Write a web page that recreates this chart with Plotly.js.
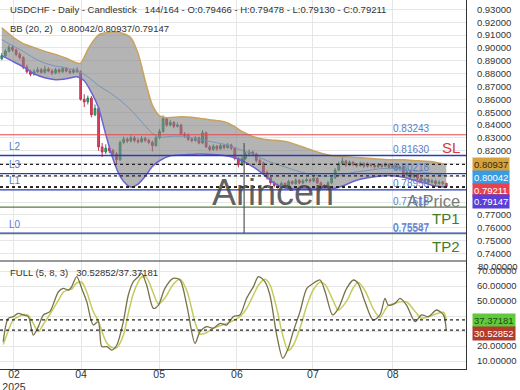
<!DOCTYPE html>
<html><head><meta charset="utf-8">
<script src="https://cdn.plot.ly/plotly-3.0.1.min.js"></script>
<style>html,body{margin:0;padding:0;background:#fff}#chart{width:520px;height:390px}</style>
</head><body><div id="chart"></div>
<script>
// ---- price data (daily candles) ----
const openP = [0.8915,0.8940,0.8975,0.9005,0.8985,0.8950,0.8925,0.8850,0.8815,0.8795,
0.8815,0.8830,0.8810,0.8835,0.8820,0.8805,0.8830,0.8815,0.8840,0.8820,
0.8810,0.8830,0.8815,0.8600,0.8580,0.8610,0.8480,0.8530,0.8230,0.8190,
0.8220,0.8200,0.8175,0.8130,0.8265,0.8290,0.8275,0.8300,0.8280,0.8270,
0.8295,0.8280,0.8265,0.8240,0.8300,0.8350,0.8450,0.8400,0.8420,0.8390,
0.8400,0.8330,0.8320,0.8290,0.8280,0.8300,0.8260,0.8340,0.8230,0.8210,
0.8235,0.8215,0.8240,0.8225,0.8245,0.8220,0.8140,0.8090,0.8140,0.8175,
0.8190,0.8175,0.8125,0.8105,0.8030,0.7990,0.7950,0.7930,0.7920,0.7945,
0.7925,0.7960,0.7945,0.7970,0.7950,0.7965,0.7975,0.7965,0.7985,0.7950,
0.7930,0.7925,0.7950,0.7990,0.8050,0.8100,0.8120,0.8090,0.8110,0.8095,
0.8085,0.8100,0.8080,0.8095,0.8085,0.8075,0.8090,0.8080,0.8095,0.8070,
0.8085,0.8060,0.8075,0.8010,0.8035,0.7995,0.8015,0.7985,0.7960,0.7975,
0.7955,0.7965,0.7945,0.7955,0.79466];
const highP = [0.8960,0.8990,0.9025,0.9020,0.8995,0.8965,0.8935,0.8870,0.8830,0.8835,
0.8850,0.8845,0.8860,0.8850,0.8835,0.8845,0.8840,0.8855,0.8850,0.8835,
0.8845,0.8850,0.8825,0.8640,0.8630,0.8625,0.8560,0.8545,0.8260,0.8250,
0.8240,0.8215,0.8190,0.8280,0.8310,0.8305,0.8320,0.8315,0.8300,0.8315,
0.8310,0.8295,0.8280,0.8315,0.8370,0.8475,0.8460,0.8440,0.8430,0.8420,
0.8410,0.8345,0.8335,0.8305,0.8315,0.8310,0.8360,0.8350,0.8245,0.8250,
0.8245,0.8255,0.8250,0.8260,0.8255,0.8230,0.8150,0.8160,0.8190,0.8210,
0.8200,0.8185,0.8140,0.8115,0.8045,0.8000,0.7965,0.7945,0.7960,0.7955,
0.7975,0.7970,0.7985,0.7980,0.7980,0.7990,0.7985,0.8000,0.7995,0.7960,
0.7940,0.7965,0.8005,0.8065,0.8115,0.8160,0.8130,0.8125,0.8120,0.8105,
0.8115,0.8110,0.8110,0.8105,0.8100,0.8105,0.8100,0.8110,0.8105,0.8100,
0.8095,0.8090,0.8085,0.8050,0.8045,0.8030,0.8025,0.7995,0.7990,0.7985,
0.7980,0.7975,0.7970,0.7965,0.79478];
const lowP = [0.8905,0.8930,0.8965,0.8970,0.8935,0.8910,0.8835,0.8800,0.8780,0.8785,
0.8805,0.8800,0.8800,0.8810,0.8790,0.8795,0.8800,0.8805,0.8810,0.8795,
0.8800,0.8805,0.8590,0.8540,0.8560,0.8460,0.8470,0.8200,0.8150,0.8175,
0.8180,0.8150,0.8090,0.8120,0.8250,0.8260,0.8265,0.8265,0.8255,0.8260,
0.8265,0.8250,0.8195,0.8230,0.8290,0.8340,0.8385,0.8390,0.8375,0.8380,
0.8320,0.8300,0.8275,0.8265,0.8270,0.8250,0.8250,0.8220,0.8195,0.8200,
0.8200,0.8205,0.8210,0.8215,0.8205,0.8125,0.8070,0.8080,0.8130,0.8165,
0.8160,0.8110,0.8090,0.8015,0.7975,0.7935,0.7915,0.7905,0.7910,0.7910,
0.7915,0.7935,0.7935,0.7940,0.7940,0.7955,0.7950,0.7955,0.7940,0.7915,
0.7905,0.7915,0.7940,0.7980,0.8040,0.8090,0.8075,0.8080,0.8080,0.8070,
0.8075,0.8065,0.8070,0.8070,0.8060,0.8065,0.8065,0.8070,0.8060,0.8060,
0.8050,0.8050,0.7995,0.8000,0.7985,0.7985,0.7970,0.7945,0.7950,0.7940,
0.7945,0.7930,0.7935,0.7930,0.79130];
const closeP = [0.8940,0.8975,0.9005,0.8985,0.8950,0.8925,0.8850,0.8815,0.8795,0.8815,
0.8830,0.8810,0.8835,0.8820,0.8805,0.8830,0.8815,0.8840,0.8820,0.8810,
0.8830,0.8815,0.8600,0.8580,0.8610,0.8480,0.8530,0.8230,0.8190,0.8220,
0.8200,0.8175,0.8130,0.8265,0.8290,0.8275,0.8300,0.8280,0.8270,0.8295,
0.8280,0.8265,0.8240,0.8300,0.8350,0.8450,0.8400,0.8420,0.8390,0.8400,
0.8330,0.8320,0.8290,0.8280,0.8300,0.8260,0.8340,0.8230,0.8210,0.8235,
0.8215,0.8240,0.8225,0.8245,0.8220,0.8140,0.8090,0.8140,0.8175,0.8190,
0.8175,0.8125,0.8105,0.8030,0.7990,0.7950,0.7930,0.7920,0.7945,0.7925,
0.7960,0.7945,0.7970,0.7950,0.7965,0.7975,0.7965,0.7985,0.7950,0.7930,
0.7925,0.7950,0.7990,0.8050,0.8100,0.8120,0.8090,0.8110,0.8095,0.8085,
0.8100,0.8080,0.8095,0.8085,0.8075,0.8090,0.8080,0.8095,0.8070,0.8085,
0.8060,0.8075,0.8010,0.8035,0.7995,0.8015,0.7985,0.7960,0.7975,0.7955,
0.7965,0.7945,0.7955,0.7947,0.79211];
const candleIdx = closeP.map((_, i) => i);

// ---- Bollinger bands (20, 2) ----
const bbIdxU = [0,3,6,9,12,15,18,21,22,23,24,25,26,27,29,32,34,36,38,40,42,44,46,50,54,58,62,65,67,70,73,76,80,84,88,92,96,100,104,108,112,116,120,124];
const bbUpper = [0.9156,0.9087,0.9034,0.9004,0.8973,0.8950,0.8920,0.8882,0.8882,0.8928,0.8988,0.9034,0.9072,0.9102,0.9118,0.9125,0.9110,0.9080,0.8958,0.8745,0.8555,0.8472,0.8457,0.8464,0.8457,0.8441,0.8426,0.8388,0.8350,0.8312,0.8289,0.8282,0.8267,0.8229,0.8191,0.8161,0.8153,0.8145,0.8137,0.8130,0.8130,0.8122,0.8115,0.80937];
const bbIdxM = [0,3,6,9,12,15,18,21,24,27,30,33,36,39,42,44,47,51,55,59,63,66,70,74,78,82,86,90,94,98,102,106,110,114,118,122,124];
const bbMid = [0.9064,0.9019,0.8973,0.8920,0.8882,0.8859,0.8844,0.8821,0.8776,0.8707,0.8654,0.8593,0.8517,0.8426,0.8335,0.8305,0.8312,0.8312,0.8289,0.8267,0.8244,0.8213,0.8175,0.8122,0.8084,0.8046,0.8016,0.8001,0.8008,0.8031,0.8046,0.8061,0.8061,0.8046,0.8031,0.8016,0.80042];
const bbIdxL = [0,3,6,9,12,15,18,21,23,25,27,29,31,33,35,36,38,40,42,44,47,51,55,60,64,67,70,73,76,79,83,88,92,95,99,103,108,112,116,120,124];
const bbLower = [0.8940,0.8897,0.8852,0.8799,0.8768,0.8753,0.8760,0.8776,0.8745,0.8654,0.8533,0.8327,0.8137,0.8001,0.7932,0.7917,0.7940,0.8001,0.8077,0.8122,0.8160,0.8168,0.8175,0.8168,0.8153,0.8122,0.8077,0.8016,0.7947,0.7909,0.7902,0.7902,0.7902,0.7925,0.7970,0.7993,0.8008,0.7993,0.7963,0.7932,0.79147];

// ---- Full stochastic (5, 8, 3) ----
const stochIdx = [0.4,1.8,3.2,4.6,6.0,7.4,8.8,10.2,11.6,13.4,15.8,17.2,18.6,19.5,20.9,22.3,23.7,25.5,26.9,27.9,29.3,30.7,32.1,33.9,35.3,36.7,38.1,39.0,40.4,42.3,43.7,45.5,47.8,49.7,51.6,53.9,55.3,57.2,59.0,60.9,62.7,64.6,66.4,68.3,70.2,71.6,73.4,74.8,76.7,78.4,79.9,81.3,83.2,85.1,86.9,88.8,90.2,92.3,93.9,96.2,98.1,99.4,101.3,103.6,105.5,106.9,107.8,109.7,111.1,112.9,115.3,117.1,119.0,121.3,123.2,124];
const stochK = [22.9,38.4,39.6,41.8,40.7,39.6,27.3,32.9,40.7,42.9,56.2,58.4,57.3,59.6,66.2,58.4,49.6,34.0,36.2,19.6,19.6,17.3,20.7,36.2,54.0,62.9,66.2,68.4,60.7,45.1,47.3,58.4,65.1,64.0,47.3,21.8,29.6,32.9,31.8,35.1,34.0,39.6,40.7,51.8,59.6,66.2,62.9,54.0,27.3,11.8,18.4,29.6,42.9,58.4,61.8,64.0,56.2,40.7,45.1,58.4,64.0,61.8,49.6,37.3,40.7,51.8,47.3,48.4,51.8,47.3,36.2,40.7,39.6,44.0,40.7,30.52852];
const stochD = [21.0,30.0,37.5,39.5,41.0,40.5,35.0,29.5,34.5,41.0,50.5,56.0,57.5,58.0,62.0,62.5,56.0,43.0,37.0,30.0,22.0,19.0,19.0,27.0,42.0,55.0,63.0,66.0,65.5,55.0,48.0,52.0,61.0,64.5,57.0,36.0,28.0,29.0,32.0,33.5,35.0,37.0,39.5,45.0,54.0,60.5,64.5,61.0,45.0,27.0,17.0,20.5,32.0,47.0,57.5,62.5,61.0,51.0,44.0,50.0,59.0,62.5,57.0,45.0,39.0,44.0,47.0,48.5,49.5,49.5,43.0,38.5,39.5,41.5,42.5,37.37181];

// ---- axis ticks ----
const monthTickIdx = [3.4, 22.1, 43.9, 65.6, 86.8, 109.1];
const monthLabels = ['02<br>2025', '04', '05', '06', '07', '08'];
const priceTicks = [0.74,0.75,0.76,0.77,0.78,0.79,0.80,0.81,0.82,0.83,0.84,0.85,0.86,0.87,0.88,0.89,0.90,0.91,0.92,0.93];
const priceTickText = ['0.74000','0.75000','0.76000','0.77000','','','','','0.82000','0.83000','0.84000','0.85000','0.86000','0.87000','0.88000','0.89000','0.90000','0.91000','0.92000','0.93000'];
const stochTicks = [10, 20, 30, 40, 50, 60, 70];
const stochTickText = ['10.00000','20.00000','','','50.00000','60.00000','70.00000'];

// ---- trade levels ----
const levelNames = ['L2', 'L3', 'L1', 'L0'];
const levelValues = [0.81630, 0.80218, 0.78958, 0.75587];
const slValue = 0.83243;
const tp1Value = 0.77618;
const tp2Value = 0.75547;
const bbNow = [0.80937, 0.80042, 0.79147];
const lastClose = 0.79211;
const stochNow = [37.37181, 30.52852];
const cursorIdx = 67.6;

const FONT = '"Liberation Sans", Arial, sans-serif';
const PH = 369, PW = 466;           // plot area size in px
const py = px => 1 - px / PH;        // pixel row -> paper y
const SPLIT = 261;

const traces = [
  {type:'scatter', x:bbIdxU, y:bbUpper, mode:'lines', line:{color:'#c9a25c', width:1.5, shape:'spline', smoothing:0.7}, hoverinfo:'skip'},
  {type:'scatter', x:bbIdxL, y:bbLower, mode:'lines', line:{color:'#6b62d8', width:1.5, shape:'spline', smoothing:0.7}, fill:'tonexty', fillcolor:'rgba(130,130,130,0.6)', hoverinfo:'skip'},
  {type:'scatter', x:bbIdxM, y:bbMid, mode:'lines', line:{color:'#7396bb', width:1, shape:'spline', smoothing:0.7}, hoverinfo:'skip'},
  {type:'candlestick', x:candleIdx, open:openP, high:highP, low:lowP, close:closeP,
   increasing:{line:{color:'#24895a', width:1}, fillcolor:'#2fa36b'},
   decreasing:{line:{color:'#c23452', width:1}, fillcolor:'#d8435f'},
   whiskerwidth:0, hoverinfo:'skip'},
  {type:'scatter', x:stochIdx, y:stochD, yaxis:'y2', mode:'lines', line:{color:'#c3cc5c', width:1.5, shape:'spline', smoothing:0.8}, hoverinfo:'skip'},
  {type:'scatter', x:stochIdx, y:stochK, yaxis:'y2', mode:'lines', line:{color:'#77704a', width:1.3, shape:'spline', smoothing:0.8}, hoverinfo:'skip'}
];

const shapes = [];
const hline = (v, color, width, dash, yref) => shapes.push({type:'line', xref:'paper', x0:0, x1:1, yref:yref||'y', y0:v, y1:v, line:{color, width, dash:dash||'solid'}});
hline(slValue, '#e04a4e', 1.2);
levelValues.forEach(v => hline(v, '#2b3db3', 1.3));
hline(tp1Value, '#557f45', 1.2);
hline(tp2Value, '#557f45', 1.2);
bbNow.forEach(v => hline(v, '#222', 1.2, '3px,3px'));
hline(lastClose, '#222', 1, '3px,3px');
stochNow.forEach(v => hline(v, '#222', 1.2, '3px,3px', 'y2'));
shapes.push({type:'line', xref:'paper', x0:0, x1:1, yref:'paper', y0:py(SPLIT), y1:py(SPLIT), line:{color:'#333', width:1}});
shapes.push({type:'line', xref:'x', x0:cursorIdx, x1:cursorIdx, yref:'y', y0:levelValues[3], y1:0.826, line:{color:'#555', width:1.2}});

const ann = [];
const txt = (o) => ann.push(Object.assign({showarrow:false, font:{family:FONT, size:9.5, color:'#333'}}, o));
txt({xref:'paper', yref:'paper', x:8/PW, y:py(9), xanchor:'left', yanchor:'middle',
     text:'USDCHF - Daily - Candlestick\u00a0\u00a0\u00a0144/164 - O:0.79466 - H:0.79478 - L:0.79130 - C:0.79211'});
txt({xref:'paper', yref:'paper', x:8/PW, y:py(29), xanchor:'left', yanchor:'middle',
     text:'BB (20, 2)\u00a0\u00a0\u00a0' + bbNow[1].toFixed(5) + '/' + bbNow[0].toFixed(5) + '/' + bbNow[2].toFixed(5)});
txt({xref:'paper', yref:'paper', x:8/PW, y:py(272), xanchor:'left', yanchor:'middle',
     text:'FULL (5, 8, 3)\u00a0\u00a0\u00a0' + stochNow[1].toFixed(5) + '/' + stochNow[0].toFixed(5)});
// watermark and AtPrice
txt({xref:'paper', yref:'paper', x:273/PW, y:py(193), xanchor:'center', yanchor:'middle', text:'Arincen',
     font:{family:FONT, size:36, color:'rgba(70,70,70,0.85)'}});
txt({xref:'paper', yref:'paper', x:462/PW, y:py(201), xanchor:'right', yanchor:'middle', text:'AtPrice',
     font:{family:FONT, size:16.5, color:'#7a7a7a'}});
// level value labels (blue)
[slValue, ...levelValues, tp1Value].forEach(v => txt({xref:'paper', yref:'y', x:391/PW, y:v, yshift:6, xanchor:'left', yanchor:'middle',
     text:v.toFixed(5), font:{family:FONT, size:10, color:'#5b7dc8'}}));
txt({xref:'paper', yref:'y', x:391/PW, y:tp2Value, yshift:5, xanchor:'left', yanchor:'middle',
     text:tp2Value.toFixed(5), font:{family:FONT, size:10, color:'#6f88d0'}});
levelNames.forEach((n, i) => txt({xref:'paper', yref:'y', x:7/PW, y:levelValues[i], yshift:9, xanchor:'left', yanchor:'middle',
     text:n, font:{family:FONT, size:10, color:'#5b7dc8'}}));
// SL / TP tags
txt({xref:'paper', yref:'y', x:462/PW, y:slValue, yshift:-13, xanchor:'right', yanchor:'middle', text:'SL', font:{family:FONT, size:15, color:'#d8383c'}});
txt({xref:'paper', yref:'y', x:462/PW, y:tp1Value, yshift:-11, xanchor:'right', yanchor:'middle', text:'TP1', font:{family:FONT, size:15, color:'#3e7d28'}});
txt({xref:'paper', yref:'y', x:462/PW, y:tp2Value, yshift:-13, xanchor:'right', yanchor:'middle', text:'TP2', font:{family:FONT, size:15, color:'#3e7d28'}});
// right axis value tags
const tag = (text, ypx, bg, fg) => txt({xref:'paper', yref:'paper', x:1, xshift:6, y:py(ypx), xanchor:'left', yanchor:'middle',
     text, bgcolor:bg, borderpad:1, font:{family:FONT, size:9.5, color:fg}});
tag(bbNow[0].toFixed(5), 164.3, '#d5a23f', '#3a2a00');
tag(bbNow[1].toFixed(5), 177.3, '#3a9be2', '#ffffff');
tag(lastClose.toFixed(5), 190, '#e8424f', '#ffffff');
tag(bbNow[2].toFixed(5), 201.7, '#5a3fd8', '#ffffff');
tag(stochNow[0].toFixed(5), 320.7, '#62c83c', '#174d14');
tag(stochNow[1].toFixed(5), 333, '#b23b2c', '#ffffff');
txt({xref:'paper', yref:'paper', x:1, xshift:10, y:py(266), xanchor:'left', yanchor:'middle', text:'80.00000'});

const layout = {
  width:520, height:390, margin:{l:0, r:54, t:0, b:21},
  paper_bgcolor:'#ffffff', plot_bgcolor:'#ffffff', showlegend:false,
  font:{family:FONT, size:9.5, color:'#333'},
  xaxis:{range:[-0.5, 129.5], tickvals:monthTickIdx, ticktext:monthLabels, anchor:'y2',
         showgrid:true, gridcolor:'#e6e6e6', zeroline:false, showline:true, linecolor:'#333',
         ticks:'', ticklabelstandoff:-5, tickfont:{size:10.5, color:'#333'}, rangeslider:{visible:false}, fixedrange:true},
  yaxis:{domain:[py(SPLIT), 1], range:[0.7342, 0.9373], side:'right', tickvals:priceTicks, ticktext:priceTickText,
         showgrid:true, gridcolor:'#e6e6e6', zeroline:false, showline:true, linecolor:'#333', ticks:'',
         ticklabelstandoff:8, anchor:'x'},
  yaxis2:{domain:[0, py(SPLIT)], range:[4.67, 76.67], side:'right', tickvals:stochTicks, ticktext:stochTickText,
          showgrid:true, gridcolor:'#e6e6e6', zeroline:false, showline:true, linecolor:'#333', ticks:'',
          ticklabelstandoff:8, anchor:'x'},
  shapes, annotations:ann
};
Plotly.newPlot('chart', traces, layout, {staticPlot:true, displayModeBar:false});
</script></body></html>
